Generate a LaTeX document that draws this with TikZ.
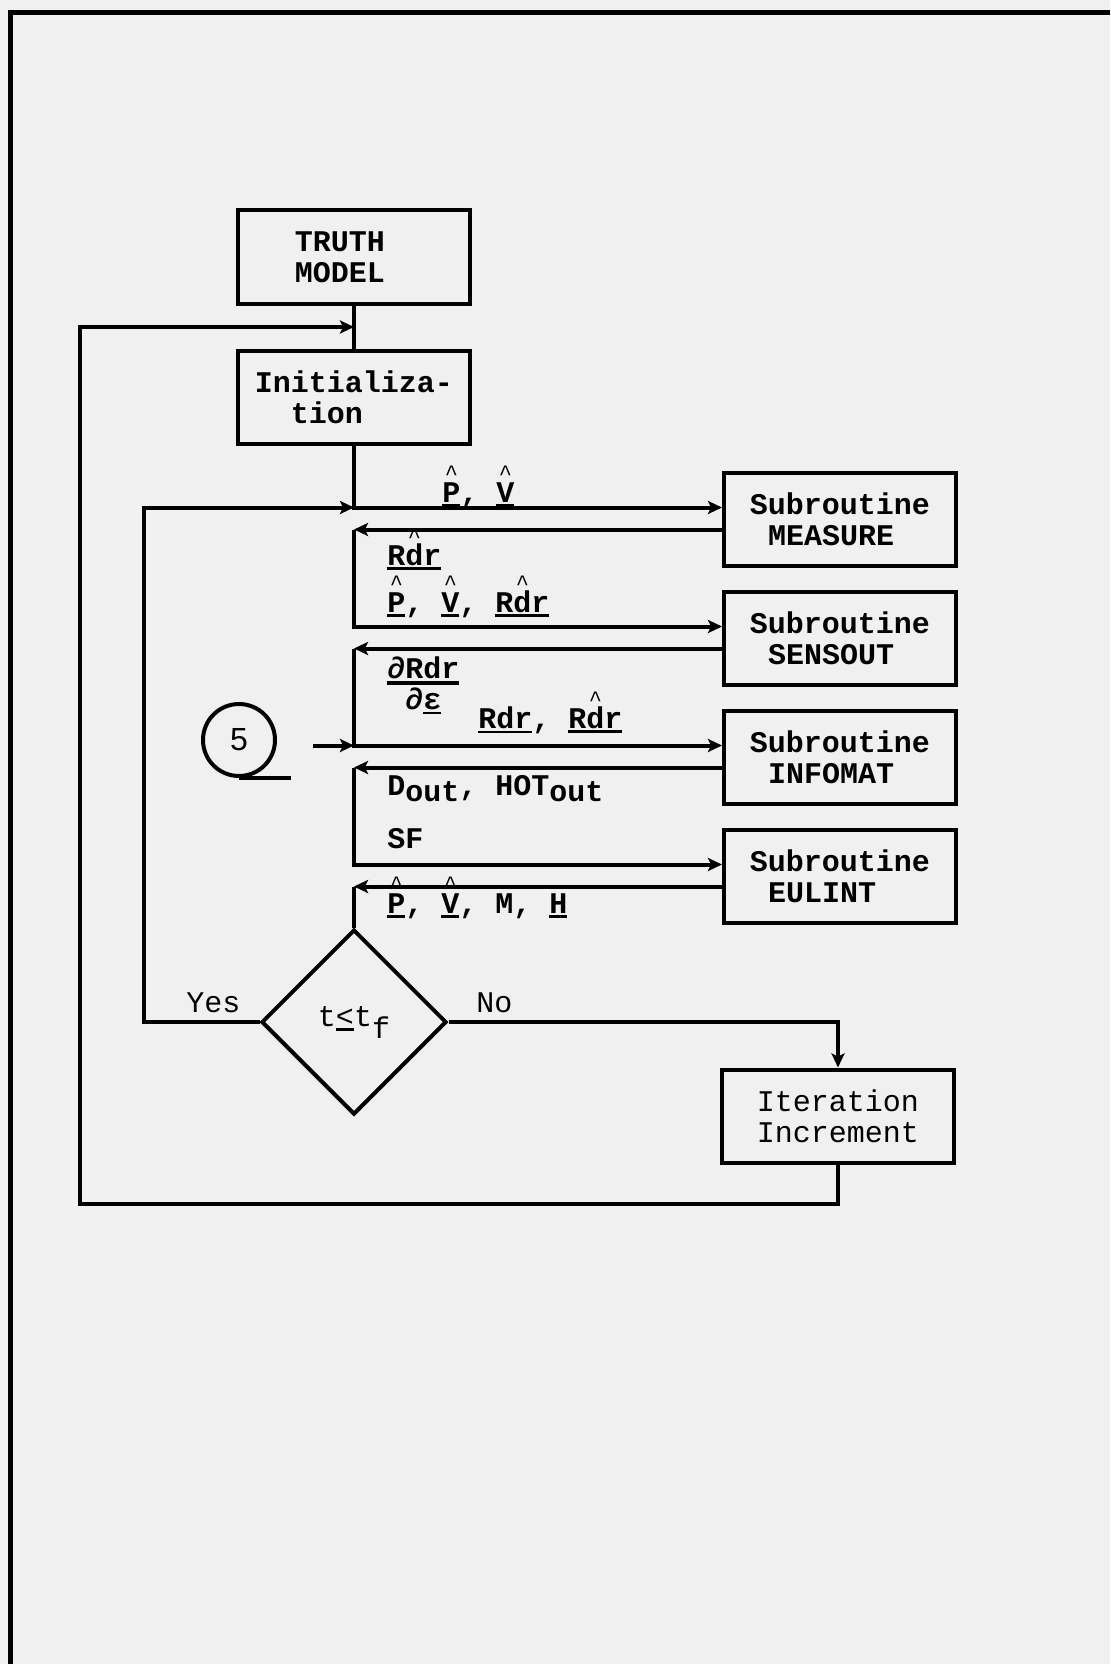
\documentclass[tikz,border=0pt]{standalone}
\usepackage{fontspec}
\setmonofont{Liberation Mono}
\newfontfamily\digitfont{Liberation Sans}
\usetikzlibrary{positioning, arrows.meta, shapes.geometric, calc}

% typewriter underline, hat and fraction
\newcommand{\uln}[1]{\vtop{\hbox{#1}\kern1.2pt\hrule height1.3pt}}
\newcommand{\ulthick}[1]{\vtop{\hbox{#1}\kern1.5pt\hrule height1.8pt}}
\newcommand{\hatc}[1]{\ooalign{#1\cr\hidewidth\raisebox{11pt}{\mdseries\fontsize{11}{11}\selectfont\textasciicircum}\hidewidth\cr}}
\newcommand{\pfrac}[2]{\vtop{\halign{\hfil##\hfil\cr#1\cr#2\cr}}}
\newcommand{\lowr}[1]{\raisebox{-3pt}{#1}}

\begin{document}
\begin{tikzpicture}[x=0.5pt, y=-0.5pt,
    txt/.style={font=\ttfamily\bfseries\fontsize{15}{15.5}\selectfont},
    lower/.style={font=\ttfamily\fontsize{15}{15.5}\selectfont},
    box/.style={txt, draw, line width=2pt, align=left,
                minimum width=116pt, minimum height=46.5pt},
    lbl/.style={txt, inner sep=0pt, anchor=base west},
    arr/.style={-{Stealth[length=7pt, width=6.5pt, inset=1.5pt]}, line width=2pt},
    wire/.style={line width=2pt}
  ]
  \fill[black!6] (0,0) rectangle (1110,1664);
  \useasboundingbox (0,0) rectangle (1110,1664);
  \draw[line width=2.5pt] (10,1664) -- (10,13) -- (1110,13);

  % main column
  \node[box] (truth) at (354,257) {TRUTH\kern14pt\\MODEL};
  \node[box, below=21.5pt of truth] (init) {Initializa-\\~~tion};
  \node[draw, diamond, aspect=1, line width=2pt, inner sep=0pt,
        minimum width=92.5pt, minimum height=92.5pt, lower] (test) at (354,1022)
        {t\uln{<}t\raisebox{-6pt}{f}};

  % subroutines
  \node[box] (meas) at (840,519.5) {Subroutine\\~MEASURE};
  \node[box, below=11pt of meas] (sens) {Subroutine\\~SENSOUT};
  \node[box, below=11pt of sens] (info) {Subroutine\\~INFOMAT};
  \node[box, below=11pt of info] (eul)  {Subroutine\\~EULINT};
  \node[box, lower] (iter) at (838,1116) {Iteration\\Increment};

  \node[circle, draw, line width=2pt, minimum size=36pt, inner sep=0pt,
        font=\digitfont\fontsize{16}{16}\selectfont] (pg5) at (239,740) {5};

  \foreach \b in {meas,sens,info,eul} {
    \coordinate (\b-in)  at ([yshift=6pt]\b.west);
    \coordinate (\b-out) at ([yshift=-5pt]\b.west);
  }
  \coordinate (top-in) at ($(truth.south)!0.5!(init.north)$);
  \coordinate (loop-bl) at (80,1204);
  \coordinate (pg5-out) at ([xshift=18pt]pg5.east);

  \draw[wire] (truth) -- (init);
  \draw[arr] (init.south) |- (meas-in);
  \foreach \a/\b in {meas/sens, sens/info, info/eul} {
    \draw[arr] (\a-out) -- (init.south |- \a-out);
    \draw[arr] (init.south |- \a-out) |- (\b-in);
  }
  \draw[arr] (eul-out) -- (init.south |- eul-out);
  \draw[wire] (init.south |- eul-out) -- (test.north);

  \draw[wire] (pg5.south) -- ++(52,0);
  \draw[arr] (pg5-out |- info-in) -- (init.south |- info-in);

  \draw[arr] (test.west) -- ++(-116,0) |- (init.south |- meas-in);
  \draw[arr] (test.east) -| (iter.north);
  \draw[arr] (iter.south) |- (loop-bl) |- (top-in);

  % labels
  \node[lbl] (l-pv)   at (442,502) {\uln{\hatc{P}}, \uln{\hatc{V}}};
  \node[lbl] (l-rdr)  at (387,565) {\uln{R\hatc{d}r}};
  \node[lbl] (l-pvr)  at (387,612) {\uln{\hatc{P}}, \uln{\hatc{V}}, \uln{R\hatc{d}r}};
  \node[lbl] (l-part) at (387,678) {\pfrac{\ulthick{∂Rdr}}{∂\uln{ε}}};
  \node[lbl] (l-rr)   at (478,728) {\uln{Rdr}, \uln{R\hatc{d}r}};
  \node[lbl] (l-dh)   at (387,795) {D\lowr{out}, HOT\lowr{out}};
  \node[lbl] (l-sf)   at (387,848) {SF};
  \node[lbl] (l-pvmh) at (387,913) {\uln{\hatc{P}}, \uln{\hatc{V}}, M, \uln{H}};
  \node[lbl, lower] (l-yes) at (186,1012) {Yes};
  \node[lbl, lower] (l-no)  at (476,1012) {No};
\end{tikzpicture}
\end{document}
